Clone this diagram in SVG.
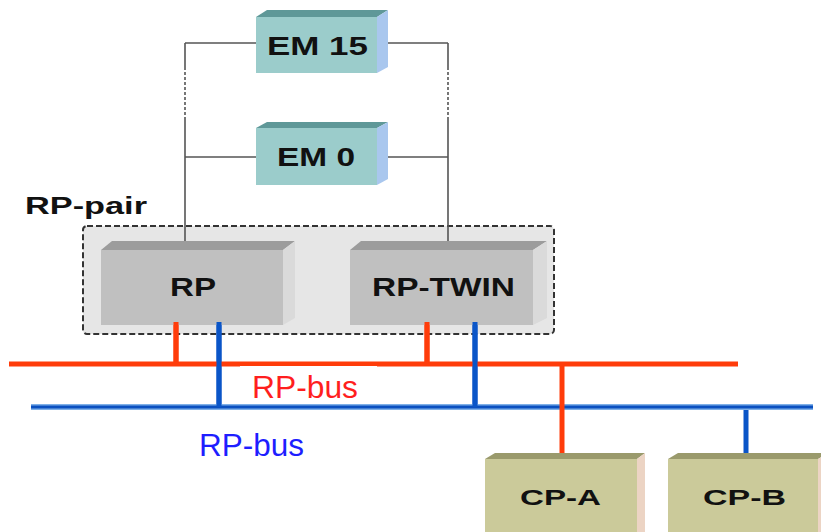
<svg xmlns="http://www.w3.org/2000/svg" width="821" height="532" viewBox="0 0 821 532">
<style>
.lbl{font-family:"Liberation Sans",Arial,sans-serif;font-weight:bold;fill:#111;}
.bus{font-family:"Liberation Sans",Arial,sans-serif;}
.emF{fill:#9bcccb;}.emT{fill:#5f9898;}.emS{fill:#a9c7ee;}
.rpF{fill:#c0c0c0;}.rpT{fill:#9c9c9c;}.rpS{fill:#dadada;}
.cpF{fill:#cbca9a;}.cpT{fill:#9a9a6c;}.cpS{fill:#ecd4c4;}
.wire{stroke:#555;stroke-width:1.6;fill:none;}
.red{stroke:#ff3c0a;stroke-width:5;fill:none;}
.blue{stroke:#0a55c8;stroke-width:5;fill:none;}
</style>
<rect width="821" height="532" fill="#fff"/>
<g id="rp-pair">
<rect x="83" y="226" width="471" height="108" rx="4" fill="#e6e6e6" stroke="#333" stroke-width="2" stroke-dasharray="6,3"/>
<text class="lbl" x="25" y="214" font-size="23" textLength="122" lengthAdjust="spacingAndGlyphs">RP-pair</text>
</g>
<g id="connectors">
<path class="wire" d="M185,43 H256 M388,43 H448 M185,157 H256 M388,157 H448"/>
<path class="wire" d="M185,43 V67 M185,118 V250 M448,43 V67 M448,118 V250"/>
<path class="wire" stroke-dasharray="3,2" d="M185,67 V118 M448,67 V118"/>
<path class="red" d="M176,322 V364 M427,322 V364"/>
<path class="blue" d="M219,322 V407 M475,322 V407 M746,407 V454"/>
<path d="M31,407 H813" stroke="#7fb0e8" stroke-width="6"/>
<path d="M31,407 H813" stroke="#0a50c0" stroke-width="3"/>
<path class="red" d="M9,364 H738 M562,364 V456"/>
<rect x="240" y="366" width="137" height="34" fill="#fff"/>
</g>
<g id="em15">
<polygon class="emT" points="256,17 267,10 388,10 377,17"/>
<polygon class="emS" points="377,17 388,10 388,67 377,73"/>
<rect class="emF" x="256" y="17" width="121" height="56"/>
<text class="lbl" x="267" y="55" font-size="25" textLength="101" lengthAdjust="spacingAndGlyphs">EM 15</text>
</g>
<g id="em0">
<polygon class="emT" points="256,128 267,122 388,122 377,128"/>
<polygon class="emS" points="377,128 388,122 388,179 377,185"/>
<rect class="emF" x="256" y="128" width="121" height="57"/>
<text class="lbl" x="277" y="166" font-size="25" textLength="78" lengthAdjust="spacingAndGlyphs">EM 0</text>
</g>
<g id="rp">
<polygon class="rpT" points="101,250 112,241 295,241 283,250"/>
<polygon class="rpS" points="283,250 295,241 295,318 283,325"/>
<rect class="rpF" x="101" y="250" width="182" height="75"/>
<text class="lbl" x="170" y="296" font-size="25" textLength="46" lengthAdjust="spacingAndGlyphs">RP</text>
</g>
<g id="rp-twin">
<polygon class="rpT" points="350,250 361,241 547,241 533,250"/>
<polygon class="rpS" points="533,250 547,241 547,318 533,325"/>
<rect class="rpF" x="350" y="250" width="183" height="75"/>
<text class="lbl" x="372" y="296" font-size="25" textLength="143" lengthAdjust="spacingAndGlyphs">RP-TWIN</text>
</g>
<path class="red" d="M176,322 V364 M427,322 V364"/>
<path class="blue" d="M219,322 V407 M475,322 V407"/>
<g id="rp-bus-labels">
<text class="bus" x="252" y="398" font-size="31" fill="#ff1e1e" textLength="106" lengthAdjust="spacingAndGlyphs">RP-bus</text>
<text class="bus" x="199" y="456" font-size="31" fill="#1e1eff" textLength="105" lengthAdjust="spacingAndGlyphs">RP-bus</text>
</g>
<g id="cp-a">
<polygon class="cpT" points="485,459 495,453 645,453 637,459"/>
<polygon class="cpS" points="637,459 645,453 645,532 637,532"/>
<rect class="cpF" x="485" y="459" width="152" height="73"/>
<text class="lbl" x="520" y="505" font-size="22" textLength="81" lengthAdjust="spacingAndGlyphs">CP-A</text>
</g>
<g id="cp-b">
<polygon class="cpT" points="668,459 678,453 828,453 818,459"/>
<polygon class="cpS" points="818,459 828,453 828,532 818,532"/>
<rect class="cpF" x="668" y="459" width="150" height="73"/>
<text class="lbl" x="703" y="505" font-size="22" textLength="83" lengthAdjust="spacingAndGlyphs">CP-B</text>
</g>
</svg>
